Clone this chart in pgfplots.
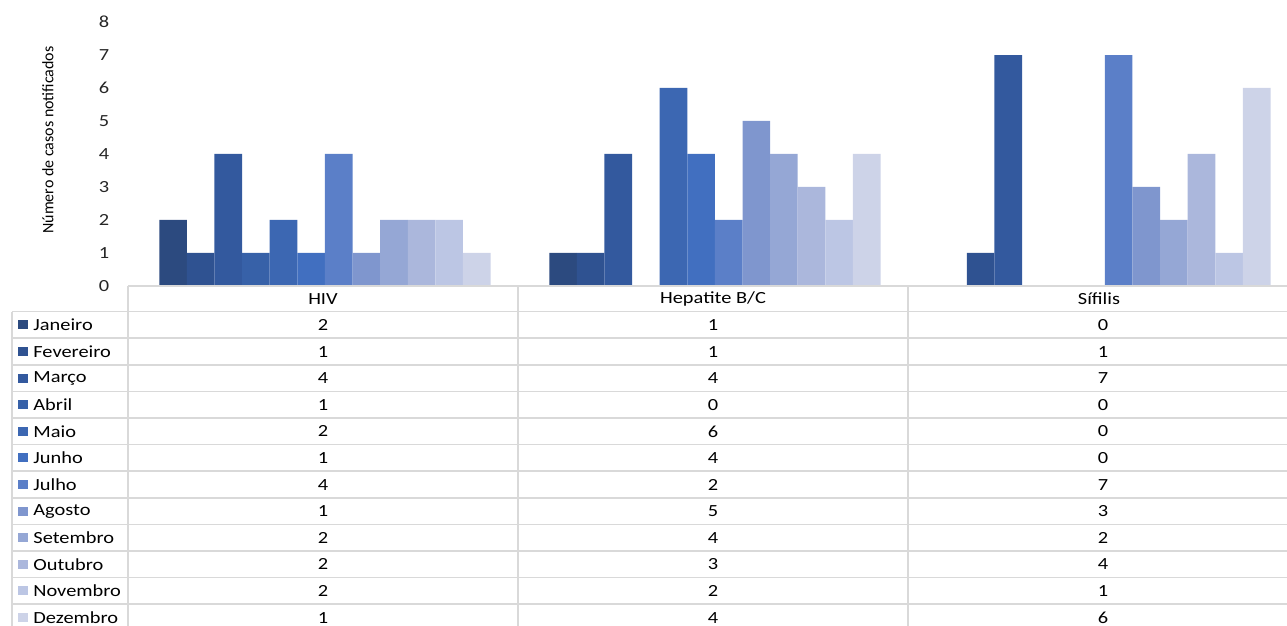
\documentclass[border=0pt]{standalone}
\usepackage{pgfplots}
\pgfplotsset{compat=1.18}
\usepackage{pgfplotstable}
\usepackage{fontspec}
\setmainfont[FakeStretch=1.2]{Carlito}
\newfontfamily\labfont{Carlito}

% casos por categoria (linhas) e mes (colunas)
\pgfplotstableread{
cat m1 m2 m3 m4 m5 m6 m7 m8 m9 m10 m11 m12
0   2  1  4  1  2  1  4  1  2  2   2   1
1   1  1  4  0  6  4  2  5  4  3   2   4
2   0  1  7  0  0  0  7  3  2  4   1   6
}\casos

\definecolor{c1}{HTML}{2C4A7F}
\definecolor{c2}{HTML}{2F5291}
\definecolor{c3}{HTML}{33599E}
\definecolor{c4}{HTML}{3761A8}
\definecolor{c5}{HTML}{3C67B2}
\definecolor{c6}{HTML}{416FC0}
\definecolor{c7}{HTML}{5B7FC8}
\definecolor{c8}{HTML}{7F96CE}
\definecolor{c9}{HTML}{95A7D5}
\definecolor{c10}{HTML}{ABB7DC}
\definecolor{c11}{HTML}{BCC6E4}
\definecolor{c12}{HTML}{CDD3E8}
\definecolor{gridc}{HTML}{D9D9D9}

\begin{document}
\begin{tikzpicture}[font=\fontsize{8.5}{10}\selectfont]
\useasboundingbox (0,0) rectangle (643.5pt,313pt);
\begin{axis}[
    at={(64pt,170pt)}, anchor=south west,
    scale only axis,
    width=579.5pt, height=132pt,
    xmin=-0.5, xmax=2.472,
    ymin=0, ymax=8,
    ybar, bar width=0.0708, bar shift=0pt,
    axis line style={draw=none},
    major tick length=0pt,
    xtick=\empty,
    ytick={0,...,8},
    /pgf/number format/assume math mode=true,
    yticklabel style={anchor=center, xshift=-12pt, text=black!85},
    clip=false,
]
\pgfplotsinvokeforeach{1,...,12}{
  \addplot[fill=c#1, draw=none] table[x expr=\thisrow{cat}+0.005+(#1-6.5)*0.0708, y=m#1]{\casos};
}
\end{axis}

\node[rotate=90, font=\labfont\fontsize{8}{10}\selectfont] at (24pt,243pt) {Número de casos notificados};

% tabela de dados
\begin{scope}[x=0.5pt, y=-0.5pt, yshift=313pt]
  \draw[gridc, line width=0.8pt] (128,286) -- (1300,286);
  \foreach \k in {0,...,12}
    \draw[gridc, line width=0.8pt] (12,{311.7+26.6*\k}) -- (1300,{311.7+26.6*\k});
  \draw[gridc, line width=0.8pt] (12,311.7) -- (12,640);
  \foreach \xv in {128,518,908}
    \draw[gridc, line width=0.8pt] (\xv,286) -- (\xv,640);
  \node at (323,299) {HIV};
  \node at (713,299) {Hepatite B/C};
  \node at (1099,299) {Sífilis};
  \foreach \nome [count=\k from 0] in {Janeiro,Fevereiro,Março,Abril,Maio,Junho,Julho,Agosto,Setembro,Outubro,Novembro,Dezembro}{
    \pgfmathtruncatemacro\s{\k+1}
    \pgfmathsetmacro\yc{311.7+26.6*(\k+0.5)}
    \fill[c\s] (18,\yc-4.5) rectangle (28,\yc+4.5);
    \node[anchor=west, inner sep=0pt] at (33,\yc) {\nome};
    \foreach \col [count=\c from 0] in {323,713,1103}{
      \pgfplotstablegetelem{\c}{m\s}\of\casos
      \node at (\col,\yc) {\pgfplotsretval};
    }
  }
\end{scope}
\end{tikzpicture}
\end{document}
